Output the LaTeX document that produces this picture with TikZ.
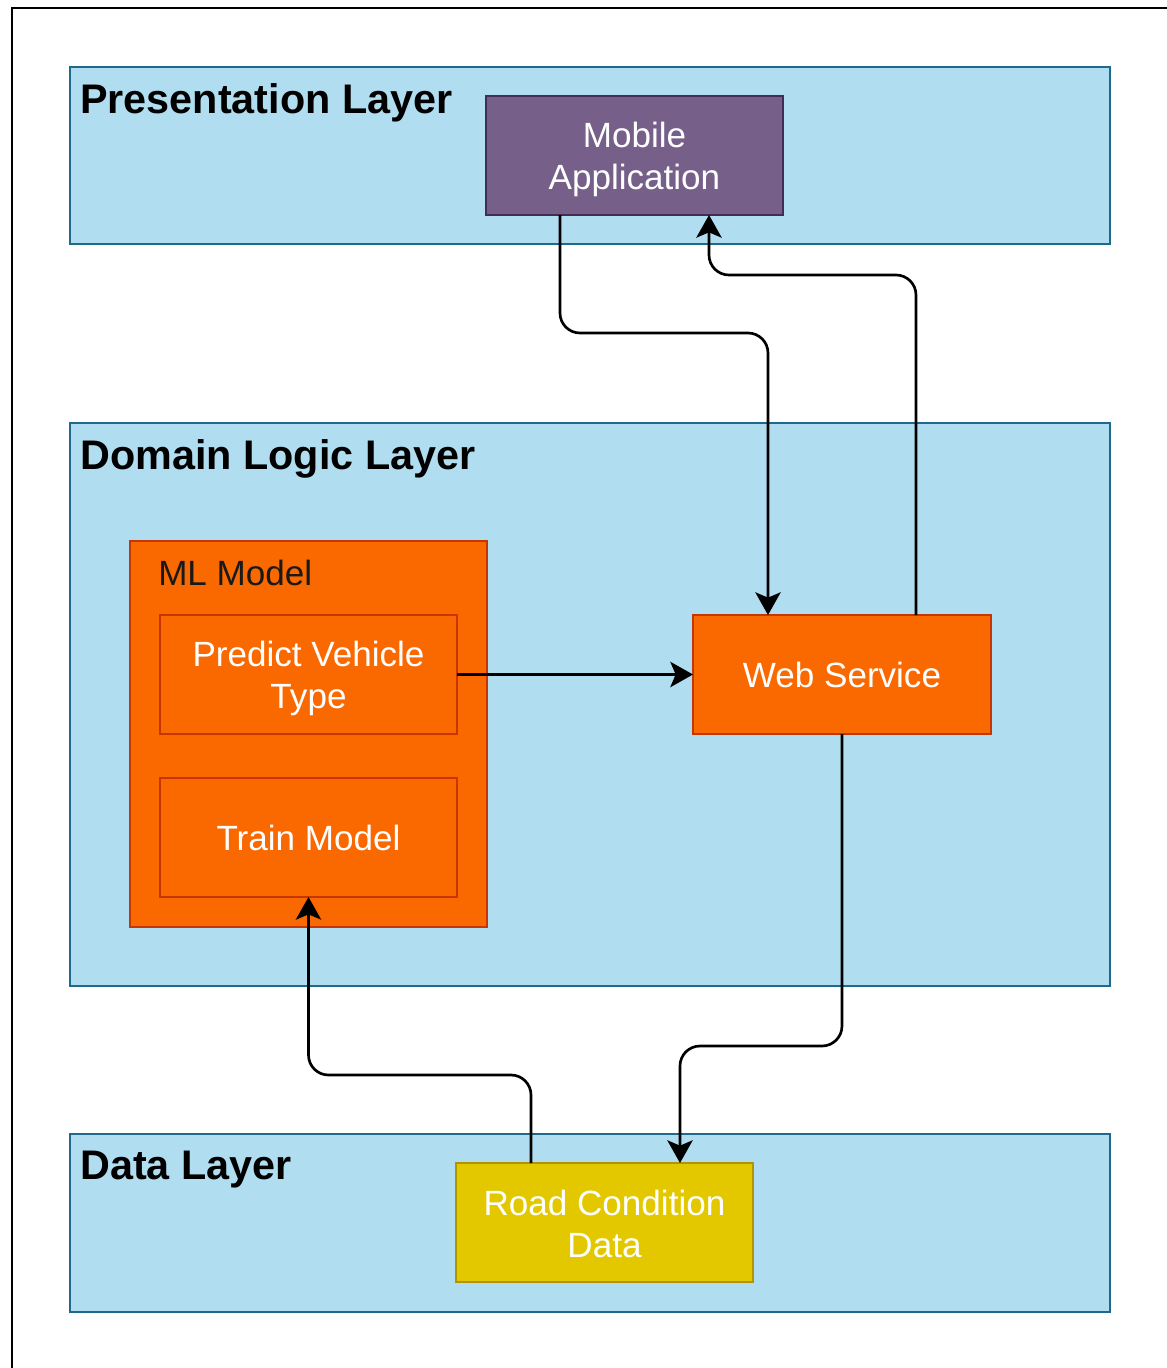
\documentclass[tikz,border=0pt]{standalone}
\usepackage{fontspec}
\setmainfont{Liberation Sans}
\usetikzlibrary{arrows.meta}

\definecolor{layerfill}{HTML}{B1DDF0}
\definecolor{layerline}{HTML}{1F6A8A}
\definecolor{purplefill}{HTML}{76608A}
\definecolor{purpleline}{HTML}{432D57}
\definecolor{orangefill}{HTML}{FA6800}
\definecolor{orangeline}{HTML}{C73500}
\definecolor{yellowfill}{HTML}{E3C800}
\definecolor{yellowline}{HTML}{B09500}

\tikzset{
  layer/.style={draw=layerline, fill=layerfill, line width=2.2pt, rectangle, anchor=north west, inner sep=0pt, outer sep=0pt},
  layertitle/.style={anchor=west, inner sep=0pt, font=\fontsize{31}{37}\selectfont\bfseries, text=black},
  box/.style={rectangle, line width=1.5pt, anchor=north west, inner sep=0pt, outer sep=0pt,
    text=white, align=center, font=\fontsize{26.3}{31.5}\selectfont},
  boxtext/.style={box, anchor=center},
  conn/.style={draw=black, line width=2pt, rounded corners=15pt,
    -{Stealth[length=17pt, width=19pt, inset=4pt]}},
}

\begin{document}
\begin{tikzpicture}[x=0.75pt, y=-0.75pt]
  \useasboundingbox (0,0) rectangle (1167,1368);
  \fill[white] (0,0) rectangle (1167,1368);

  % page frame (only its top and left edges fall on the page)
  \draw[line width=2.2pt, black] (12,1380) -- (12,8) -- (1180,8);

  % layers
  \node[layer, minimum width=780pt, minimum height=132.75pt] (pres) at (70,67) {};
  \node[layertitle] (prest) at (80,103) {Presentation Layer};

  \node[layer, minimum width=780pt, minimum height=422.25pt] (dom) at (70,423) {};
  \node[layertitle] (domt) at (80,459) {Domain Logic Layer};

  \node[layer, minimum width=780pt, minimum height=133.5pt] (data) at (70,1134) {};
  \node[layertitle] (datat) at (80,1170) {Data Layer};

  % presentation layer
  \node[box, draw=purpleline, fill=purplefill, minimum width=222.75pt, minimum height=89.25pt] (mob) at (486,96) {};
  \node[boxtext] (mobt) at ([yshift=-3pt]mob.center) {Mobile\\Application};

  % domain logic layer
  \node[box, draw=orangeline, fill=orangefill, minimum width=267.75pt, minimum height=289.5pt] (ml) at (130,541) {};
  \node[anchor=west, inner sep=0pt, font=\fontsize{26.3}{31.5}\selectfont, text=black!90] (mlt) at (158,573) {ML Model};

  \node[box, draw=orangeline, fill=orangefill, minimum width=222.75pt, minimum height=89.25pt] (pred) at (160,615) {};
  \node[boxtext] (predt) at ([yshift=-3pt]pred.center) {Predict Vehicle\\Type};

  \node[box, draw=orangeline, fill=orangefill, minimum width=222.75pt, minimum height=89.25pt] (train) at (160,778) {};
  \node[boxtext] (traint) at (train.center) {Train Model};

  \node[box, draw=orangeline, fill=orangefill, minimum width=223.5pt, minimum height=89.25pt] (ws) at (693,615) {};
  \node[boxtext] (wst) at (ws.center) {Web Service};

  % data layer
  \node[box, draw=yellowline, fill=yellowfill, minimum width=222.75pt, minimum height=89.25pt] (road) at (456,1163) {};
  \node[boxtext] (roadt) at ([yshift=-1pt]road.center) {Road Condition\\Data};

  % connectors
  \draw[conn] (mob.south -| 560,0) |- (768,333) -- (ws.north -| 768,0);
  \draw[conn] (ws.north -| 916,0) |- (709,275) -- (mob.south -| 709,0);
  \draw[conn] (pred.east) -- (ws.west);
  \draw[conn] (ws.south) |- (680,1046) -- (road.north -| 680,0);
  \draw[conn] (road.north -| 531,0) |- (train.south |- 0,1075) -- (train.south);
\end{tikzpicture}
\end{document}
